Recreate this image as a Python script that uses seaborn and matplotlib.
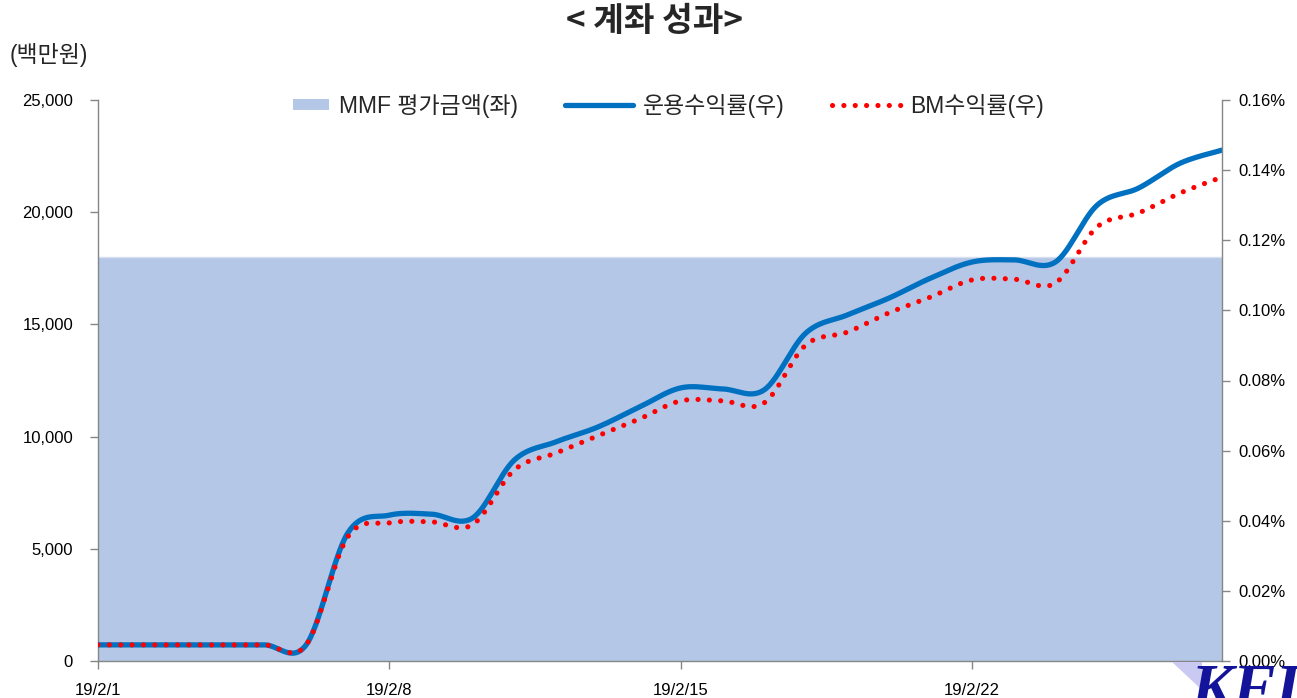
import numpy as np
import pandas as pd
import matplotlib
matplotlib.use("Agg")
import matplotlib.pyplot as plt
import matplotlib.dates as mdates
import matplotlib.patches as mpatches
from matplotlib.lines import Line2D
from matplotlib.legend_handler import HandlerPatch
from matplotlib.ticker import FuncFormatter, FixedLocator
import seaborn as sns

# ---------------- data ----------------
dates = pd.date_range("2019-02-01", "2019-02-28", freq="D")
mmf_value = [18000, 18000, 18000, 18000, 18000, 18000, 18000, 18000, 18000, 18000,
             18000, 18000, 18000, 18000, 18000, 18000, 18000, 18000, 18000, 18000,
             18000, 18000, 18000, 18000, 18000, 18000, 18000, 18000]
fund_return = [0.0046, 0.0046, 0.0046, 0.0046, 0.0046, 0.0046, 0.0365, 0.0416, 0.0419, 0.0408,
               0.0573, 0.0625, 0.0667, 0.0724, 0.0779, 0.0776, 0.0773, 0.0935, 0.0987, 0.1035,
               0.1092, 0.1138, 0.1144, 0.1138, 0.1300, 0.1349, 0.1420, 0.1457]
bm_return = [0.0046, 0.0046, 0.0046, 0.0046, 0.0046, 0.0046, 0.0354, 0.0394, 0.0397, 0.0389,
             0.0545, 0.0593, 0.0642, 0.0690, 0.0742, 0.0742, 0.0736, 0.0901, 0.0938, 0.0993,
             0.1038, 0.1087, 0.1089, 0.1078, 0.1238, 0.1278, 0.1335, 0.1380]
tick_dates = ["2019-02-01", "2019-02-08", "2019-02-15", "2019-02-22"]
tick_labels = ["19/2/1", "19/2/8", "19/2/15", "19/2/22"]
left_ticks = [0, 5000, 10000, 15000, 20000, 25000]
right_ticks = [0.00, 0.02, 0.04, 0.06, 0.08, 0.10, 0.12, 0.14, 0.16]
title = "< 계좌 성과>"
unit_label = "(백만원)"
names = ["MMF 평가금액(좌)", "운용수익률(우)", "BM수익률(우)"]

# -------- Excel-style smoothed line rendering (Bezier / Catmull-Rom) --------
def smooth(x, y, n=30):
    x = np.asarray(x, float); y = np.asarray(y, float)
    px = np.concatenate([[x[0]], x, [x[-1]]]); py = np.concatenate([[y[0]], y, [y[-1]]])
    xs, ys = [], []
    t = np.linspace(0, 1, n, endpoint=False)
    for i in range(1, len(px) - 2):
        p0x, p1x = px[i], px[i + 1]
        p0y, p1y = py[i], py[i + 1]
        c1x = p0x + (px[i + 1] - px[i - 1]) / 6; c1y = p0y + (py[i + 1] - py[i - 1]) / 6
        c2x = p1x - (px[i + 2] - px[i]) / 6; c2y = p1y - (py[i + 2] - py[i]) / 6
        b0 = (1 - t) ** 3; b1 = 3 * (1 - t) ** 2 * t; b2 = 3 * (1 - t) * t ** 2; b3 = t ** 3
        xs.append(b0 * p0x + b1 * c1x + b2 * c2x + b3 * p1x)
        ys.append(b0 * p0y + b1 * c1y + b2 * c2y + b3 * p1y)
    xs.append([x[-1]]); ys.append([y[-1]])
    return np.concatenate(xs), np.concatenate(ys)

sns.set_theme(style="white")
plt.rcParams["font.family"] = ["Liberation Sans", "Noto Sans CJK KR", "DejaVu Sans"]

xnum = mdates.date2num(dates.to_pydatetime())
sx_f, sy_f = smooth(xnum, fund_return)
sx_b, sy_b = smooth(xnum, bm_return)
df_f = pd.DataFrame({"x": sx_f, "y": sy_f})
df_b = pd.DataFrame({"x": sx_b, "y": sy_b})

fig = plt.figure(figsize=(12.97, 6.98), dpi=100)
ax = fig.add_axes([98 / 1297, 1 - 661 / 698, (1222 - 98) / 1297, (661 - 100) / 698])
ax2 = ax.twinx()

area_color = "#B4C7E7"
ax.fill_between(xnum, 0, mmf_value, color=area_color, lw=0, zorder=1)
ax.plot(xnum, mmf_value, color="#D6E0F0", lw=1, zorder=1.5)

sns.lineplot(data=df_f, x="x", y="y", ax=ax2, color="#0070C0", lw=3.8,
             solid_capstyle="round", sort=False, estimator=None)
sns.lineplot(data=df_b, x="x", y="y", ax=ax2, color="#FF0000", lw=3.7,
             linestyle=(0, (0.01, 2.2)), dash_capstyle="round", sort=False, estimator=None)

ax.set_xlim(xnum[0], xnum[-1])
ax.set_ylim(0, 25000)
ax2.set_ylim(0, 0.16)

spine_c = "#868686"
for a in (ax, ax2):
    for s in a.spines.values():
        s.set_visible(False)
ax.spines["left"].set_visible(True); ax.spines["left"].set_color(spine_c)
ax.spines["bottom"].set_visible(True); ax.spines["bottom"].set_color(spine_c)
ax2.spines["right"].set_visible(True); ax2.spines["right"].set_color(spine_c)
for a in (ax, ax2):
    for s in a.spines.values():
        s.set_linewidth(1.0)

ax.yaxis.set_major_locator(FixedLocator(left_ticks))
ax.yaxis.set_major_formatter(FuncFormatter(lambda v, p: f"{v:,.0f}"))
ax2.yaxis.set_major_locator(FixedLocator(right_ticks))
ax2.yaxis.set_major_formatter(FuncFormatter(lambda v, p: f"{v:.2f}%"))
ax.set_xticks(mdates.date2num(pd.to_datetime(tick_dates).to_pydatetime()))
ax.set_xticklabels(tick_labels)

ax.tick_params(axis="y", left=True, length=6, width=1, color=spine_c, labelsize=12, pad=12, labelcolor="black")
ax.tick_params(axis="x", bottom=True, length=6, width=1, color=spine_c, labelsize=12, pad=10, labelcolor="black")
ax2.tick_params(axis="y", right=True, length=6, width=1, color=spine_c, labelsize=12, pad=6, labelcolor="black")
ax.set_xlabel(""); ax.set_ylabel(""); ax2.set_xlabel(""); ax2.set_ylabel("")
ax.grid(False); ax2.grid(False)

# legend
class NarrowPatch(HandlerPatch):
    def create_artists(self, legend, orig_handle, xdescent, ydescent, width, height, fontsize, trans):
        w, h = 26, 8
        p = mpatches.Rectangle((width - w - xdescent, -ydescent + (height - h) / 2), w, h,
                               facecolor=area_color, edgecolor="none", transform=trans)
        return [p]

handles = [mpatches.Patch(color=area_color),
           Line2D([], [], color="#0070C0", lw=3.8, solid_capstyle="round"),
           Line2D([], [], color="#FF0000", lw=3.7, linestyle=(0, (0.01, 2.2)), dash_capstyle="round")]
leg = ax2.legend(handles, names, loc="center", bbox_to_anchor=(0.493, 0.99), ncol=3,
                 frameon=False, fontsize=16.5, handlelength=3.0, handletextpad=0.42,
                 columnspacing=2.05, handler_map={mpatches.Patch: NarrowPatch()})

fig.text(655 / 1297, 1 - 22 / 698, title, ha="center", va="center", fontsize=24, fontweight="bold",
         family=["Noto Sans CJK KR", "DejaVu Sans"])
fig.text(10 / 1297, 1 - 55 / 698, unit_label, ha="left", va="center", fontsize=16.5,
         family=["Liberation Sans", "Noto Sans CJK KR"])

# KFI watermark
tri = mpatches.Polygon([[1172 / 1297, 1 - 662 / 698], [1202 / 1297, 1 - 662 / 698], [1202 / 1297, 1 - 690 / 698]],
                       closed=True, transform=fig.transFigure, facecolor="#C9C9F2", edgecolor="none", zorder=0)
fig.patches.append(tri)
fig.text(1190 / 1297, 1 - 664 / 698, "KFI", ha="left", va="top", fontsize=46, fontweight="bold",
         style="italic", color="#14149A", family="Liberation Serif", zorder=1)

fig.savefig("out.png", dpi=100)
